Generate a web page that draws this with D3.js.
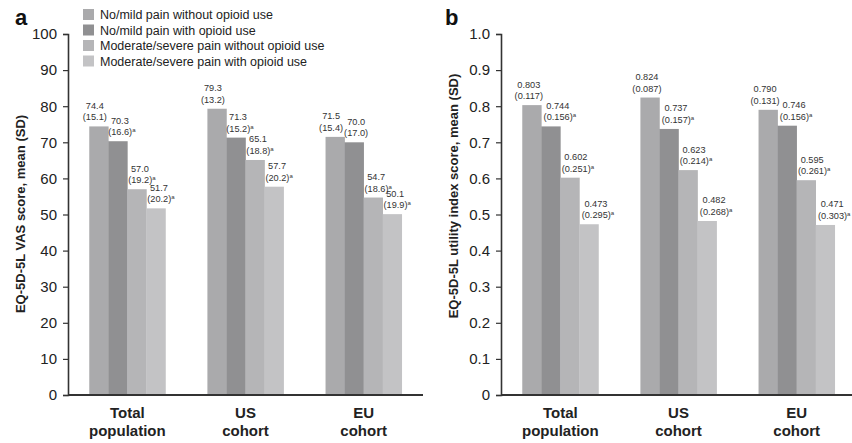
<!DOCTYPE html>
<html>
<head>
<meta charset="utf-8">
<script src="https://cdn.jsdelivr.net/npm/d3@7"></script>
<style>
  body { margin: 0; background: #fff; }
  svg { display: block; font-family: "Liberation Sans", Arial, sans-serif; }
</style>
</head>
<body>
<svg id="chart" width="852" height="443"></svg>
<script>
const cohorts = ["Total population", "US cohort", "EU cohort"];
const cohortLines = [["Total", "population"], ["US", "cohort"], ["EU", "cohort"]];
const groups = [
  "No/mild pain without opioid use",
  "No/mild pain with opioid use",
  "Moderate/severe pain without opioid use",
  "Moderate/severe pain with opioid use"
];
const colors = ["#aaaaac", "#909092", "#b5b5b7", "#c3c3c5"];

// VAS means and SDs [cohort][group]
const vasMean = [[74.4, 70.3, 57.0, 51.7], [79.3, 71.3, 65.1, 57.7], [71.5, 70.0, 54.7, 50.1]];
const vasSD = [["15.1", "16.6", "19.2", "20.2"], ["13.2", "15.2", "18.8", "20.2"], ["15.4", "17.0", "18.6", "19.9"]];
const vasSig = [[false, true, true, true], [false, true, true, true], [false, false, true, true]];
const vasTicks = [0, 10, 20, 30, 40, 50, 60, 70, 80, 90, 100];

// utility index means and SDs
const utilMean = [[0.803, 0.744, 0.602, 0.473], [0.824, 0.737, 0.623, 0.482], [0.790, 0.746, 0.595, 0.471]];
const utilSD = [["0.117", "0.156", "0.251", "0.295"], ["0.087", "0.157", "0.214", "0.268"], ["0.131", "0.156", "0.261", "0.303"]];
const utilSig = [[false, true, true, true], [false, true, true, true], [false, true, true, true]];
const utilTicks = [0, 0.1, 0.2, 0.3, 0.4, 0.5, 0.6, 0.7, 0.8, 0.9, 1.0];

const svg = d3.select("#chart");
const plotTop = 34, plotBottom = 395;

function panel(opt) {
  const {x0, x1, max, ticks, tickFmt, mean, sd, sig, valFmt, title, titleY, letter, letterX, labelDx} = opt;

  const x = d3.scaleBand().domain(cohorts).range([x0, x1]).paddingInner(0.355).paddingOuter(0.18);
  const xs = d3.scaleBand().domain(groups).range([0, x.bandwidth()]);
  const y = d3.scaleLinear().domain([0, max]).range([plotBottom, plotTop]);

  const g = svg.append("g");

  cohorts.forEach((c, i) => {
    const gg = g.append("g").attr("transform", `translate(${x(c)},0)`);
    gg.selectAll("rect")
      .data(groups)
      .enter()
      .append("rect")
      .attr("x", d => xs(d))
      .attr("y", (d, j) => y(mean[i][j]))
      .attr("width", xs.bandwidth() + 0.3)
      .attr("height", (d, j) => plotBottom - y(mean[i][j]))
      .style("fill", (d, j) => colors[j]);

    //value and (SD) above each bar, nudged sideways so neighbours don't collide
    const lab = gg.selectAll("text.val")
      .data(groups)
      .enter()
      .append("text")
      .attr("class", "val")
      .attr("text-anchor", "middle")
      .attr("font-size", 9.2)
      .attr("fill", "#333");
    lab.append("tspan")
      .attr("x", (d, j) => xs(d) + xs.bandwidth() / 2 + labelDx[j])
      .attr("y", (d, j) => y(mean[i][j]) - 17.5)
      .text((d, j) => valFmt(mean[i][j]));
    const l2 = lab.append("tspan")
      .attr("x", (d, j) => xs(d) + xs.bandwidth() / 2 + labelDx[j] + (sig[i][j] ? 2 : 0))
      .attr("y", (d, j) => y(mean[i][j]) - 6)
      .text((d, j) => "(" + sd[i][j] + ")");
    l2.filter((d, j) => sig[i][j])
      .append("tspan")
      .attr("font-size", 6)
      .attr("dy", -3)
      .text("a");
  });

  // y axis
  const ya = g.append("g")
    .attr("transform", `translate(${x0},0)`)
    .call(d3.axisLeft(y).tickValues(ticks).tickFormat(tickFmt).tickSize(5).tickPadding(6));
  ya.select(".domain").attr("stroke", "#333").attr("stroke-width", 1.6);
  ya.selectAll(".tick line").attr("stroke", "#333").attr("stroke-width", 1.2);
  ya.selectAll(".tick text").attr("font-size", 15).attr("fill", "#222")
    .attr("font-family", "'Liberation Sans', Arial, sans-serif");

  // x axis baseline
  g.append("line")
    .attr("x1", x0).attr("x2", x1)
    .attr("y1", plotBottom).attr("y2", plotBottom)
    .attr("stroke", "#333").attr("stroke-width", 2);

  cohortLines.forEach((ls, i) => {
    const t = g.append("text")
      .attr("text-anchor", "middle")
      .attr("font-size", 15)
      .attr("font-weight", "bold")
      .attr("fill", "#222");
    ls.forEach((s, k) => {
      t.append("tspan")
        .attr("x", x(cohorts[i]) + x.bandwidth() / 2)
        .attr("y", 418 + k * 18)
        .text(s);
    });
  });

  g.append("text")
    .attr("transform", `translate(${opt.titleX},${titleY}) rotate(-90)`)
    .attr("text-anchor", "middle")
    .attr("font-size", 13)
    .attr("font-weight", "bold")
    .attr("fill", "#222")
    .text(title);

  g.append("text")
    .attr("x", letterX).attr("y", 25)
    .attr("font-size", 22)
    .attr("font-weight", "bold")
    .attr("fill", "#111")
    .text(letter);
}

panel({
  x0: 68, x1: 423, max: 100, ticks: vasTicks, tickFmt: d3.format("d"),
  mean: vasMean, sd: vasSD, sig: vasSig, valFmt: d3.format(".1f"),
  title: "EQ-5D-5L VAS score, mean (SD)", titleX: 25, titleY: 214,
  letter: "a", letterX: 15, labelDx: [-4, 2, 3, 3]
});

panel({
  x0: 501, x1: 856, max: 1.0, ticks: utilTicks, tickFmt: d => d === 0 ? "0" : d3.format(".1f")(d),
  mean: utilMean, sd: utilSD, sig: utilSig, valFmt: d3.format(".3f"),
  title: "EQ-5D-5L utility index score, mean (SD)", titleX: 458, titleY: 196,
  letter: "b", letterX: 445, labelDx: [-3, 7, 6, 7]
});

// legend
const legend = svg.append("g").attr("transform", "translate(83,9)");
legend.selectAll("rect")
  .data(groups)
  .enter()
  .append("rect")
  .attr("x", 0)
  .attr("y", (d, i) => i * 15.5)
  .attr("width", 11)
  .attr("height", 11)
  .style("fill", (d, i) => colors[i]);
legend.selectAll("text")
  .data(groups)
  .enter()
  .append("text")
  .attr("x", 17)
  .attr("y", (d, i) => i * 15.5 + 10)
  .attr("font-size", 12.5)
  .attr("fill", "#222")
  .text(d => d);
</script>
</body>
</html>
